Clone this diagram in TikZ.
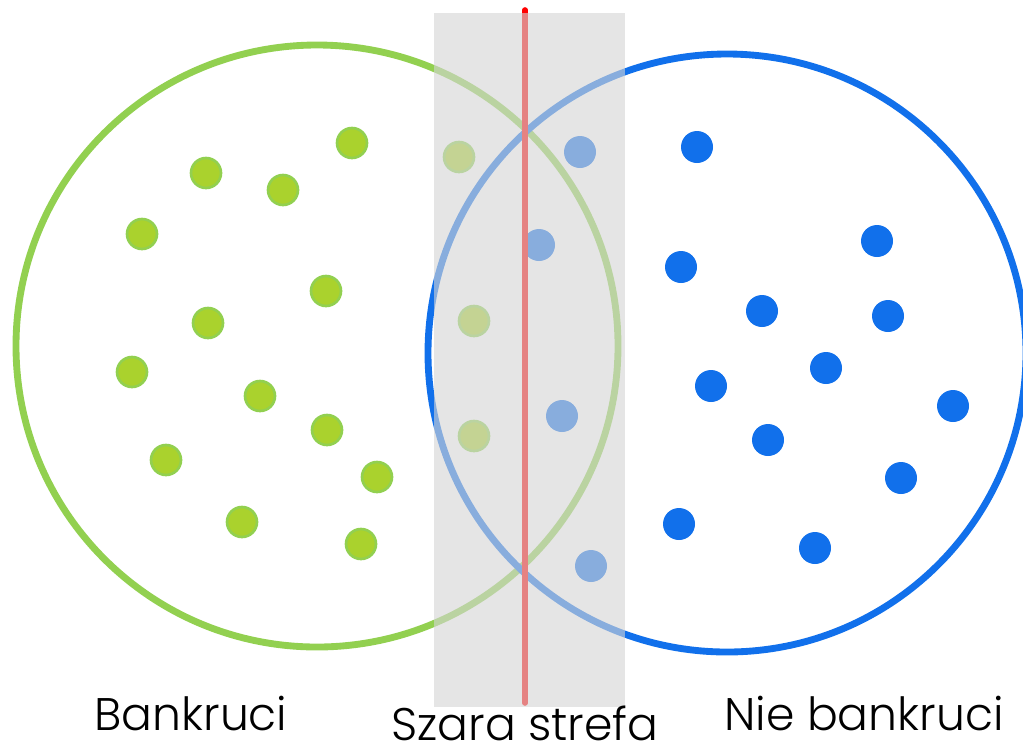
\documentclass[tikz,border=0pt]{standalone}
\usepackage{fontspec}
\setmainfont{Poppins}[UprightFont=* Light]
\definecolor{bankgreen}{RGB}{146,208,80}
\definecolor{dotgreen}{RGB}{170,210,45}
\definecolor{bankblue}{RGB}{17,112,235}
\definecolor{zonegray}{RGB}{213,213,213}
\tikzset{
  green dot/.style={fill=dotgreen, draw=bankgreen, line width=1.5pt},
  blue dot/.style={fill=bankblue},
  label text/.style={anchor=base, inner sep=0pt, text depth=0pt,
    font=\fontsize{26}{30}\selectfont}
}
\begin{document}
\begin{tikzpicture}[x=0.02cm, y=-0.02cm]
  \useasboundingbox (0,0) rectangle (1023,745);
  % the two groups
  \draw[bankgreen, line width=3.9pt] (317,346) circle [radius=301];
  \draw[bankblue, line width=3.9pt] (727,353) circle [radius=299];
  \foreach \x/\y in {352/143, 206/173, 283/190, 142/234, 326/291, 208/323, 132/372,
    260/396, 327/430, 166/460, 377/477, 242/522, 361/544, 459/157, 474/321, 474/436}
    \filldraw[green dot] (\x,\y) circle [radius=15];
  \foreach \x/\y in {697/147, 877/241, 681/267, 762/311, 888/316, 826/368, 711/386,
    953/406, 768/440, 901/478, 679/524, 815/548, 580/152, 539/245, 562/416, 591/566}
    \fill[blue dot] (\x,\y) circle [radius=16];
  % border line and grey zone
  \draw[red, line width=3.2pt, line cap=round] (525,10) -- (525,703);
  \fill[zonegray, fill opacity=0.61] (434,13) rectangle (625,707);
  % labels
  \node[label text] (bankruci) at (191,730) {Bankruci};
  \node[label text] (szara) at (525,740) {Szara strefa};
  \node[label text] (niebankruci) at (864,730) {Nie bankruci};
\end{tikzpicture}
\end{document}
